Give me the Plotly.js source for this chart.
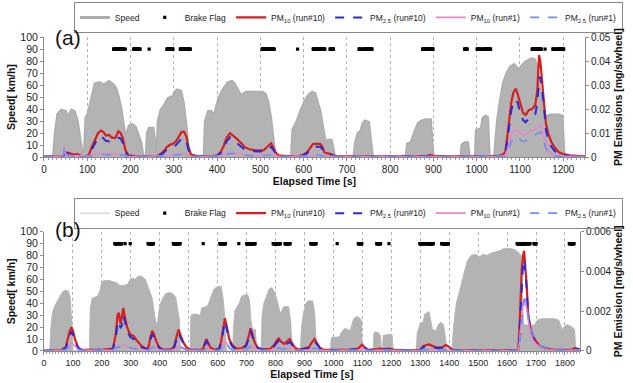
<!DOCTYPE html>
<html><head><meta charset="utf-8">
<script src="https://cdn.plot.ly/plotly-3.0.1.min.js"></script>
<style>html,body{margin:0;padding:0;background:#fff}#chart{width:633px;height:383px}</style>
</head><body><div id="chart"></div>
<script>
// ---------- Panel (a) ----------
const speedTimeA = [0,22,26,32,40,50,55,58,64,70,77,85,89,93,97,102,110,118,128,138,142,150,158,165,172,178,184,188,192,197,205,211,216,224,229,236,239,243,252,255,258,261,264,270,278,287,292,296,302,308,316,322,330,335,370,373,380,386,391,396,405,415,425,434,440,447,455,462,468,480,495,505,512,518,524,530,534,572,575,578,585,595,605,612,620,626,632,638,644,650,653,657,664,668,672,716,720,726,733,737,742,750,755,759,837,840,848,853,858,865,872,882,893,897,900,963,966,972,979,983,997,999,1005,1011,1014,1020,1025,1029,1041,1048,1055,1062,1070,1078,1086,1092,1097,1104,1112,1120,1127,1134,1140,1146,1152,1157,1163,1170,1190,1197,1202,1250];
const speedA = [0,0,20,36,39,38,33,35,39,38,30,10,0,0,33,36,50,61,62,60,61,63,61,58,50,40,25,16,20,26,27,25,20,12,0,0,20,24,24,15,0,0,30,39,43,49,50,48,54,56,55,45,20,0,0,30,38,38,35,38,50,57,62,63,61,56,51,53,54,54,54,54,52,45,32,12,0,0,22,25,30,40,48,52,54,53,46,38,25,13,12,14,14,8,0,0,12,20,22,28,30,29,15,0,0,11,12,18,22,28,30,31,31,10,0,0,10,12,12,0,0,22,23,24,32,34,33,0,0,30,48,62,70,75,77,75,72,76,79,81,82,81,73,55,40,33,34,35,35,34,0,0];
const brakeStartA = [161,188,207,243,284,315,504,586,622,661,728,738,875,972,1001,1015,1128,1158,1176,1186];
const brakeEndA   = [184,188,222,243,298,338,532,586,649,669,732,758,899,978,1009,1032,1149,1158,1181,1201];
const pmTimeA = [0,15,30,42,45,47,49,55,62,70,77,85,95,104,110,118,125,132,137,143,150,158,165,172,177,182,188,195,210,240,262,275,283,290,298,305,312,318,324,329,334,340,355,390,400,408,415,422,430,436,445,455,465,475,490,507,515,520,525,530,535,542,560,590,600,608,615,622,630,638,643,648,655,663,672,700,750,800,860,885,892,900,930,980,1020,1050,1060,1066,1070,1075,1080,1085,1090,1095,1100,1107,1113,1120,1128,1135,1140,1144,1147,1150,1155,1160,1165,1172,1180,1190,1200,1215,1235,1250];
const pm10Run10A = [.00025,.0004,.0003,.0004,.00075,.0015,.002,.00175,.0015,.001,.00125,.0005,.00025,.001,.004,.0075,.01,.011,.0105,.009,.00925,.008,.008,.01075,.01,.008,.003,.00075,.0004,.00025,.0005,.002,.004,.005,.0055,.0065,.0085,.0105,.0105,.0085,.004,.001,.0004,.0004,.00075,.002,.0045,.008,.01,.00925,.00775,.006,.004,.00325,.00275,.00275,.004,.005,.00575,.004,.002,.00075,.0004,.0005,.001,.002,.004,.0055,.0055,.0055,.0045,.002,.0015,.00125,.0005,.00025,.0003,.00025,.0003,.0005,.0009,.0005,.00025,.0003,.0005,.0004,.001,.002,.0075,.016,.023,.027,.0285,.026,.023,.0185,.0175,.0195,.02,.0215,.0275,.0425,.04,.0325,.0235,.014,.01,.0065,.004,.002,.00125,.00075,.0005,.00025];
const pm25Run10A = [.00015,.00025,.0002,.00025,.0005,.00125,.0015,.0015,.00125,.00075,.001,.0004,.00015,.00075,.003,.006,.008,.00875,.008,.00675,.0065,.0065,.007,.008,.00775,.006,.002,.0005,.00025,.00015,.00035,.0015,.003,.00375,.004,.005,.0065,.00775,.00775,.0065,.003,.00075,.00025,.00025,.0005,.0015,.0035,.0065,.00825,.00725,.006,.00475,.003,.0025,.00225,.00225,.003,.00375,.00425,.003,.0015,.0005,.00025,.00035,.00075,.0015,.00325,.00425,.00425,.00425,.0035,.0015,.0011,.001,.0003,.00015,.0002,.00015,.0002,.00035,.0006,.00035,.00015,.0002,.00035,.00025,.00075,.0015,.006,.013,.0195,.023,.024,.0225,.019,.0155,.0145,.016,.017,.0175,.0225,.032,.0335,.029,.022,.011,.0075,.0045,.0025,.00125,.00075,.0005,.0003,.00015];
const pm10Run1A = [.00025,.0003,.00025,.0004,.001,.0045,.0015,.00075,.0005,.0005,.0004,.0003,.00025,.0005,.00075,.00125,.0015,.0015,.0015,.00125,.00125,.00125,.00125,.0015,.0015,.00125,.0005,.00025,.00025,.00025,.00025,.0005,.00075,.001,.001,.00125,.0015,.0015,.0015,.00125,.00075,.0003,.00025,.00025,.0004,.0006,.001,.0015,.002,.002,.0015,.00125,.001,.00075,.00075,.00075,.001,.001,.00125,.001,.0005,.00025,.00025,.0003,.0004,.0005,.00075,.001,.001,.001,.00075,.0004,.00035,.0003,.00025,.0002,.00025,.0002,.00025,.0003,.0004,.00025,.0002,.00025,.00025,.00025,.0005,.00075,.0025,.006,.009,.0105,.0115,.011,.01,.00925,.0095,.0105,.011,.0115,.012,.013,.013,.012,.009,.005,.003,.0015,.001,.0005,.0004,.0003,.00025,.0002];
const pm25Run1A = [.00015,.0002,.00015,.00025,.00075,.004,.001,.0005,.0004,.00035,.0003,.0002,.00015,.00035,.0005,.0009,.001,.0011,.001,.0009,.0009,.0009,.0009,.001,.001,.0009,.0004,.0002,.00015,.00015,.0002,.00035,.0005,.00065,.00075,.0009,.0011,.00115,.00115,.001,.0005,.0002,.00015,.00015,.00025,.0004,.00075,.00115,.0015,.0015,.00125,.001,.00075,.0006,.0006,.0006,.00075,.0008,.0009,.00075,.0004,.0002,.00015,.0002,.00025,.0004,.0006,.00075,.00075,.00075,.0006,.0003,.00025,.00025,.00015,.00015,.00015,.00015,.00015,.0002,.00025,.0002,.00015,.00015,.0002,.00015,.0003,.0005,.0015,.004,.0065,.008,.0085,.008,.00725,.0065,.00675,.00775,.0085,.00925,.00975,.0105,.0105,.0095,.0065,.0035,.00175,.00075,.0005,.00025,.0002,.00015,.00015,.0001];

// ---------- Panel (b) ----------
const speedTimeB = [0,20,24,30,38,44,52,60,66,75,84,90,95,100,157,160,166,175,185,193,200,210,225,240,252,262,280,290,297,305,316,322,330,340,350,356,365,374,382,388,393,400,410,420,435,445,455,462,467,471,505,508,520,540,545,560,568,578,588,600,612,618,624,630,652,655,660,667,675,683,695,704,710,715,720,730,735,750,754,760,768,778,788,798,806,815,820,828,845,852,857,886,890,897,905,912,928,935,941,990,993,1022,1028,1040,1058,1063,1070,1081,1093,1097,1099,1138,1140,1145,1156,1162,1166,1170,1172,1195,1203,1206,1286,1290,1300,1310,1316,1330,1337,1342,1355,1362,1372,1380,1385,1392,1410,1415,1425,1438,1450,1462,1475,1490,1505,1518,1530,1545,1560,1575,1590,1610,1625,1638,1648,1652,1656,1665,1680,1695,1705,1720,1760,1778,1790,1800,1808,1825,1833,1837,1850];
const speedB = [0,0,20,33,38,41,45,48,50,51,50,45,27,0,0,35,44,45,46,50,58,59,59,58,57,55,55,56,60,61,60,62,63,62,60,56,50,44,30,22,25,38,44,48,49,48,45,35,27,0,0,30,31,30,36,37,39,46,52,54,54,45,30,0,0,20,34,37,40,46,47,47,42,25,18,18,0,0,30,40,45,52,53,48,42,32,33,37,37,25,0,0,20,32,40,42,42,32,0,0,11,12,16,19,17,22,27,29,27,25,0,0,15,16,15,13,0,0,13,14,13,0,0,15,23,24,31,33,25,18,17,22,24,22,14,0,0,20,40,52,65,75,80,81,79,81,80,82,83,84,86,86,85,83,80,40,22,22,21,22,26,27,27,26,18,21,22,20,18,0,0];
const brakeStartB = [245,260,280,298,360,447,550,608,673,700,792,833,922,1013,1086,1150,1192,1299,1322,1374,1635,1673,1693,1815];
const brakeEndB   = [255,268,280,298,378,470,550,627,673,729,816,850,940,1013,1098,1163,1192,1316,1345,1397,1668,1679,1700,1831];
const pmTimeB = [0,30,60,75,82,88,95,100,108,118,130,160,200,238,248,254,258,265,269,274,280,287,297,310,320,338,355,362,368,374,380,388,398,412,440,450,458,465,472,482,492,505,540,550,556,561,567,575,590,605,612,618,625,632,640,650,665,683,698,707,714,720,728,738,752,780,795,805,811,818,830,840,849,856,866,880,915,925,935,942,952,965,1000,1050,1085,1093,1099,1108,1120,1150,1160,1172,1185,1195,1210,1250,1300,1310,1320,1330,1340,1355,1375,1388,1396,1412,1450,1500,1560,1620,1639,1643,1647,1651,1655,1659,1663,1667,1673,1680,1690,1702,1715,1730,1760,1800,1825,1835,1850];
const pm10Run10B = [.00002,.00003,.00005,.00018,.0006,.00096,.0012,.00102,.00054,.00018,.00006,.00005,.00006,.00012,.00084,.0018,.00192,.00138,.00168,.00216,.00168,.0012,.00084,.00075,.00054,.00024,.00009,.00024,.00072,.00102,.00084,.00048,.00018,.00006,.00009,.00024,.00072,.00108,.00078,.00042,.00018,.00006,.00006,.00012,.00042,.0006,.00042,.00018,.00006,.00012,.00048,.00096,.00165,.0012,.0006,.0003,.00012,.00013,.0003,.00072,.00114,.00084,.00042,.00018,.00009,.00009,.0003,.00054,.00063,.00048,.00036,.00048,.0006,.00042,.00018,.00006,.00018,.00042,.0006,.00042,.00018,.00006,.00006,.00006,.00012,.00024,.00032,.00018,.00006,.00009,.00012,.00009,.00012,.00012,.00006,.00003,.00006,.00024,.0003,.00033,.00027,.00018,.00018,.0003,.00024,.00006,.00003,.00003,.00003,.00003,.00003,.0012,.00282,.0042,.0048,.00504,.0042,.00348,.00186,.0012,.00072,.00044,.00024,.00015,.00006,.00006,.00006,.00015,.00009];
const pm25Run10B = [.000012,.000024,.000036,.00015,.00048,.00078,.00099,.00084,.00042,.00015,.000048,.000036,.000048,.00009,.00066,.00138,.0015,.00114,.00132,.0018,.00144,.00102,.00072,.0006,.00045,.00018,.000072,.00018,.0006,.00084,.00072,.00039,.00015,.000048,.000072,.00018,.0006,.0009,.00066,.00036,.00015,.000048,.000048,.00009,.00033,.00048,.00036,.00015,.000048,.00009,.00039,.00084,.0015,.00108,.00051,.00024,.00009,.000108,.00024,.0006,.00102,.00072,.00036,.00015,.000072,.000072,.00024,.00042,.00051,.00039,.0003,.00036,.00045,.00033,.00015,.000048,.00015,.00036,.00048,.00036,.00015,.000048,.000048,.000048,.00009,.00018,.00024,.00015,.000048,.000072,.00009,.000072,.00009,.00009,.000048,.000024,.000048,.00018,.00024,.00027,.00021,.00015,.00015,.00024,.00018,.000048,.000024,.000024,.000024,.000024,.000024,.0009,.00228,.0036,.00432,.00462,.00408,.0033,.0018,.00114,.00066,.00039,.00021,.00012,.000048,.000048,.000048,.00012,.000072];
const pm10Run1B = [.000018,.000018,.00003,.00006,.00018,.0003,.00039,.00036,.00024,.00009,.00003,.000024,.00003,.000048,.00018,.00027,.00027,.00024,.00027,.0003,.00027,.00021,.00018,.00015,.00012,.00006,.00003,.00006,.00015,.00024,.00021,.00012,.00006,.00003,.00003,.00006,.00015,.00024,.00021,.00012,.00006,.00003,.000024,.000036,.00009,.00015,.00012,.00006,.000024,.000036,.00012,.00024,.00048,.00039,.00018,.00009,.000036,.000048,.00009,.00018,.00027,.00024,.00012,.00006,.00003,.00003,.00009,.00015,.00018,.00015,.00012,.00015,.00018,.00012,.00006,.000024,.00006,.00012,.00018,.00012,.00006,.000024,.000024,.000024,.000048,.000072,.00009,.00006,.000024,.000036,.000048,.000036,.000048,.000048,.000024,.000018,.000024,.000072,.00009,.000108,.00009,.00006,.00006,.00009,.000072,.000024,.000018,.000018,.000018,.000018,.000018,.00048,.0012,.00198,.0024,.00264,.00252,.00216,.00144,.0009,.00054,.0003,.00018,.000108,.000036,.00003,.00003,.00006,.000036];
const pm25Run1B = [.000012,.000012,.000024,.000048,.00015,.00024,.0003,.0003,.00021,.000072,.000024,.000018,.000024,.000036,.00015,.00021,.00021,.00018,.00021,.00024,.00021,.00018,.00015,.00012,.000096,.000048,.000024,.000048,.00012,.00018,.00018,.000108,.000048,.000024,.000024,.000048,.00012,.00018,.00018,.000108,.000048,.000024,.000018,.00003,.000072,.00012,.000096,.000048,.000018,.00003,.000096,.00021,.00042,.00036,.00015,.000072,.00003,.000036,.000072,.00015,.00021,.00021,.000108,.000048,.000024,.000024,.000072,.00012,.00015,.00012,.000096,.00012,.00015,.000108,.000048,.000018,.000048,.000096,.00015,.000108,.000048,.000018,.000018,.000018,.000036,.00006,.000072,.000048,.000018,.00003,.000036,.00003,.000036,.000036,.000018,.000012,.000018,.00006,.000072,.00009,.000072,.000048,.000048,.000072,.00006,.000018,.000012,.000012,.000012,.000012,.000012,.0003,.0009,.00168,.00222,.00252,.00258,.0024,.0018,.0012,.00078,.00042,.00024,.00015,.000048,.000024,.000024,.000048,.00003];

const brakeLevel = 90; // brake flag plotted at 90 on the speed axis
const names = ['Speed','Brake Flag','PM<sub>10</sub> (run#10)','PM<sub>2.5</sub> (run#10)','PM<sub>10</sub> (run#1)','PM<sub>2.5</sub> (run#1)'];

function brakeSeconds(starts, ends){
  const xs=[];
  for(let i=0;i<starts.length;i++){ for(let t=starts[i]; t<=ends[i]; t++) xs.push(t); }
  return xs;
}

function panel(xa, ya, ya2, leg, tS, sp, bS, bE, tP, p10a, p25a, p10b, p25b, speedLine){
  const bx = brakeSeconds(bS,bE);
  return [
    {x:tS, y:sp, xaxis:xa, yaxis:ya, type:'scatter', mode:'lines',
     line:{color:speedLine.c, width:speedLine.w}, name:names[0], legend:leg},
    {x:tS, y:sp, xaxis:xa, yaxis:ya, type:'scatter', mode:'lines', fill:'tozeroy',
     fillcolor:'#b3b3b3', line:{color:'#b3b3b3', width:0.5}, name:names[0], legend:leg, showlegend:false},
    {x:bx, y:bx.map(()=>brakeLevel), xaxis:xa, yaxis:ya, type:'scatter', mode:'markers',
     marker:{symbol:'square', size:3.2, color:'#000'}, name:names[1], legend:leg},
    {x:tP, y:p10a, xaxis:xa, yaxis:ya2, type:'scatter', mode:'lines', line:{color:'#d81e1e', width:2.2}, name:names[2], legend:leg},
    {x:tP, y:p25a, xaxis:xa, yaxis:ya2, type:'scatter', mode:'lines', line:{color:'#2a2ad6', width:2, dash:'dash'}, name:names[3], legend:leg},
    {x:tP, y:p10b, xaxis:xa, yaxis:ya2, type:'scatter', mode:'lines', line:{color:'#e887c8', width:1.6}, name:names[4], legend:leg},
    {x:tP, y:p25b, xaxis:xa, yaxis:ya2, type:'scatter', mode:'lines', line:{color:'#6f8ff2', width:1.6, dash:'dash'}, name:names[5], legend:leg}
  ];
}

const data = [].concat(
  panel('x','y','y2','legend', speedTimeA, speedA, brakeStartA, brakeEndA, pmTimeA, pm10Run10A, pm25Run10A, pm10Run1A, pm25Run1A, {c:'#adadad', w:3}),
  panel('x2','y3','y4','legend2', speedTimeB, speedB, brakeStartB, brakeEndB, pmTimeB, pm10Run10B, pm25Run10B, pm10Run1B, pm25Run1B, {c:'#c4c4c4', w:1})
);

const narrow = "'Liberation Sans Narrow','Arial Narrow','Liberation Sans',Arial,sans-serif";
const sans = "'Liberation Sans',Arial,sans-serif";
function xAxis(domain, range, anchor, fs){
  return {domain:domain, range:range, anchor:anchor, tick0:0, dtick:100, showgrid:true, gridcolor:'#b0b0b0', griddash:'dot', gridwidth:1,
    zeroline:false, showline:true, linecolor:'#8a8a8a', linewidth:1, ticks:'outside', ticklen:3, tickcolor:'#8a8a8a',
    minor:{dtick:10, ticks:'outside', ticklen:2, tickcolor:'#9a9a9a', showgrid:false},
    tickfont:{family:narrow, size:fs, color:'#222'},
    title:{text:'<b>Elapsed Time [s]</b>', font:{family:sans, size:10.5, color:'#111'}, standoff:3}};
}
function yLeft(domain, anchor){
  return {domain:domain, range:[0,100], anchor:anchor, dtick:10, showgrid:false, zeroline:false, showline:true, linecolor:'#8a8a8a',
    ticks:'outside', ticklen:3, tickcolor:'#8a8a8a', tickfont:{family:sans, size:10.5, color:'#222'},
    title:{text:'<b>Speed[ km/h]</b>', font:{family:sans, size:10.5, color:'#111'}, standoff:2}};
}
function yRight(overlay, anchor, range, dtick, title){
  return {overlaying:overlay, side:'right', anchor:anchor, range:range, dtick:dtick, showgrid:false, zeroline:false, showline:true, linecolor:'#8a8a8a',
    ticks:'outside', ticklen:3, tickcolor:'#8a8a8a', tickfont:{family:narrow, size:10, color:'#222'},
    title:{text:'<b>'+title+'</b>', font:{family:sans, size:10.5, color:'#111'}, standoff:4}};
}
function legend(y){
  return {orientation:'h', x:0.984, xanchor:'right', y:y, yanchor:'top', bgcolor:'rgba(255,255,255,0)', bordercolor:'#888', borderwidth:1,
    font:{family:sans, size:8.5, color:'#222'}, itemwidth:30, tracegroupgap:0};
}

const layout = {
  width:633, height:383, margin:{l:0,r:0,t:0,b:0}, paper_bgcolor:'#fff', plot_bgcolor:'#fff', showlegend:true,
  xaxis: xAxis([0.0695,0.924],[0,1250],'y',10),
  yaxis: yLeft([0.590,0.903],'x'),
  yaxis2: yRight('y','x',[0,0.05],0.01,'PM Emissions [mg/s/wheel]'),
  xaxis2: xAxis([0.0695,0.9163],[0,1852],'y3',9),
  yaxis3: yLeft([0.0836,0.395],'x2'),
  yaxis4: yRight('y3','x2',[0,0.006],0.002,'PM Emission [mg/s/wheel]'),
  legend: legend(0.995),
  legend2: legend(0.484),
  annotations:[
    {text:'(a)', xref:'paper', yref:'paper', x:0.1074, y:0.903, xanchor:'center', yanchor:'middle', showarrow:false, font:{family:sans, size:21, color:'#111'}},
    {text:'(b)', xref:'paper', yref:'paper', x:0.1074, y:0.400, xanchor:'center', yanchor:'middle', showarrow:false, font:{family:sans, size:21, color:'#111'}}
  ]
};

Plotly.newPlot('chart', data, layout, {staticPlot:true, displayModeBar:false});
</script>
</body></html>
